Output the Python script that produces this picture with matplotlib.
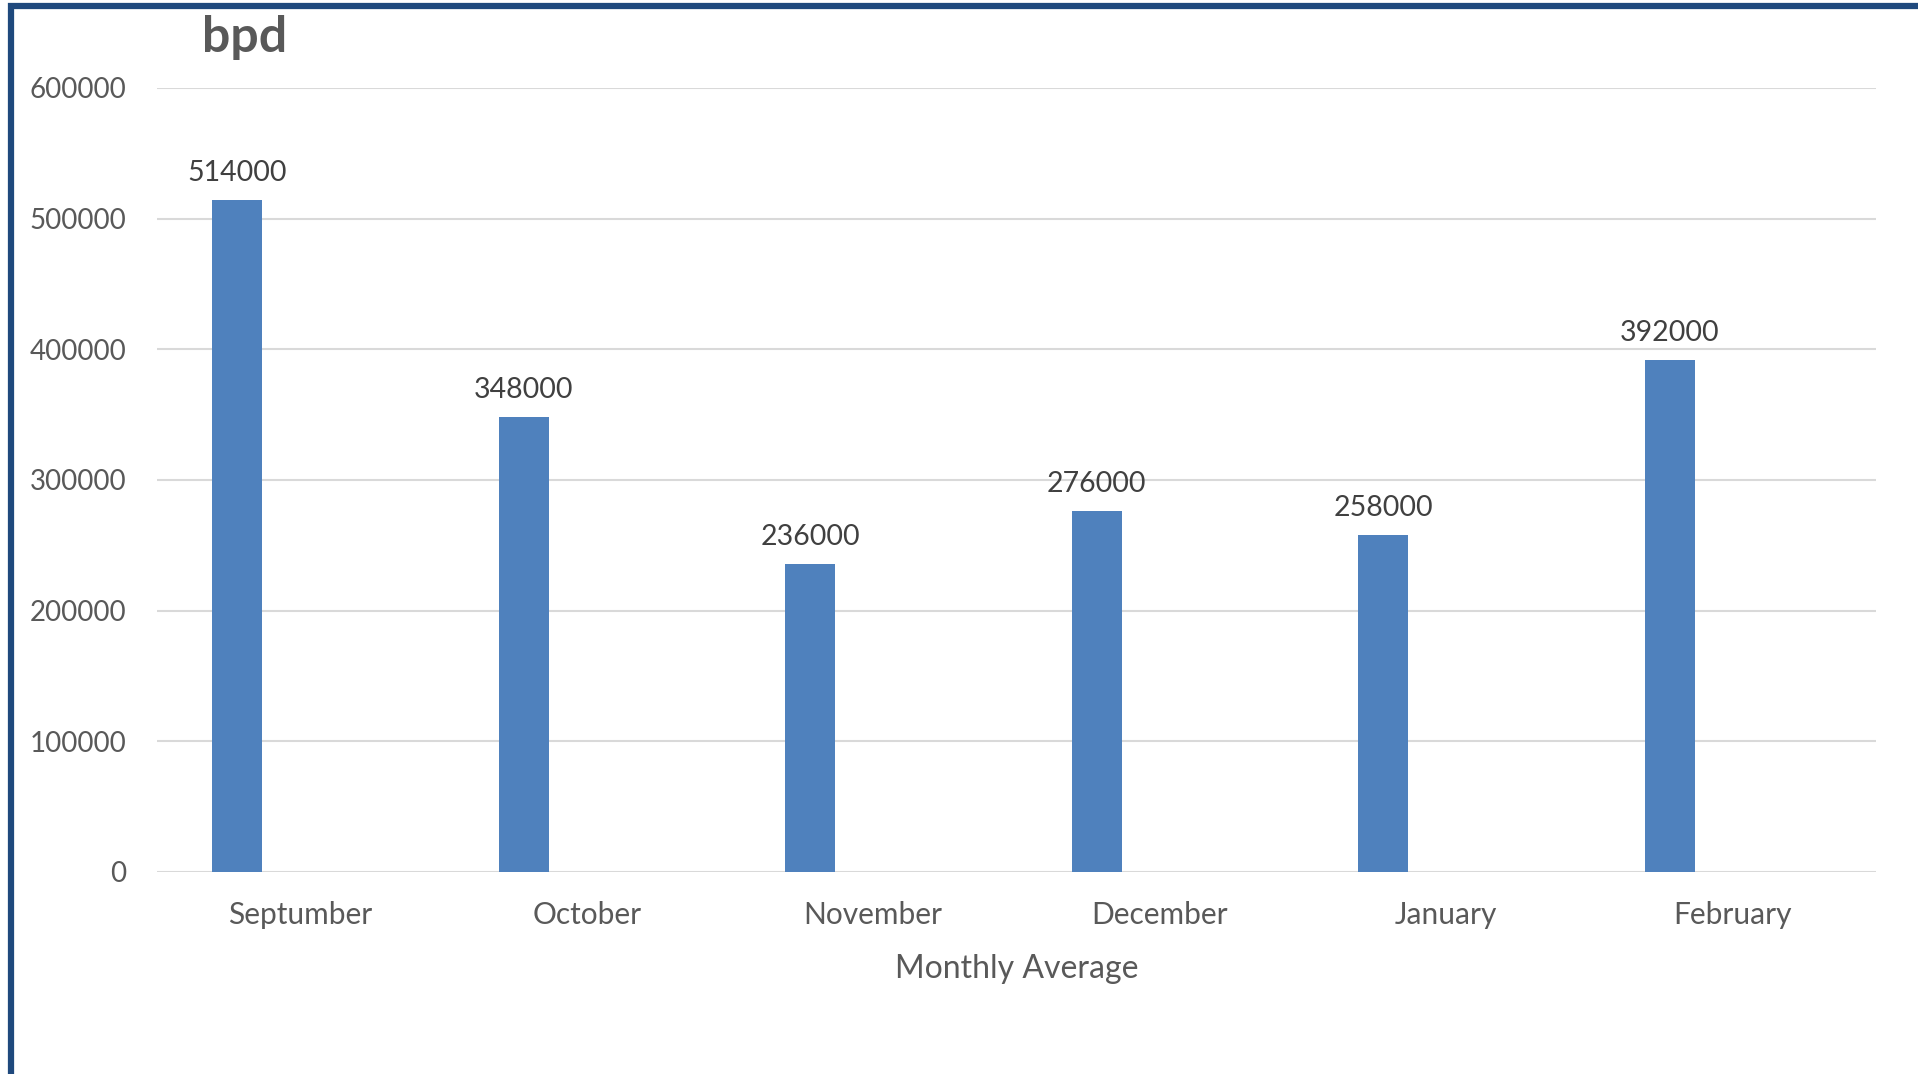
import matplotlib.pyplot as plt
from matplotlib.patches import Rectangle
import numpy as np

months = ['Septumber', 'October', 'November', 'December', 'January', 'February']
bpd_avg = [514000, 348000, 236000, 276000, 258000, 392000]
y_ticks = [0, 100000, 200000, 300000, 400000, 500000, 600000]

plt.rcParams['font.family'] = ['Lato', 'DejaVu Sans']

W, H = 1918, 1074
fig = plt.figure(figsize=(W / 100, H / 100), dpi=100)
ax = fig.add_axes([157 / W, 1 - 872 / H, (1876 - 157) / W, (872 - 88) / H])

x = np.arange(len(months))
# bars sit in the left slot of each category group
offset = -0.22
bars = ax.bar(x + offset, bpd_avg, width=0.175, color='#4F81BD', zorder=3)

for xi, v in zip(x, bpd_avg):
    ax.annotate(f'{v}', (xi + offset, v), xytext=(0, 10), textcoords='offset points',
                ha='center', va='bottom', fontsize=20.5, color='#404040')

ax.set_xlim(-0.5, len(months) - 0.5)
ax.set_ylim(0, 600000)
ax.set_yticks(y_ticks)
ax.set_yticklabels([str(t) for t in y_ticks])
ax.set_xticks(x)
ax.set_xticklabels(months)
ax.tick_params(axis='both', length=0, labelcolor='#595959')
ax.tick_params(axis='y', pad=22, labelsize=20)
ax.tick_params(axis='x', pad=21, labelsize=21.5)
ax.yaxis.grid(True, color='#D9D9D9', linewidth=1.5, zorder=0)
for s in ax.spines.values():
    s.set_visible(False)

ax.set_xlabel('Monthly Average', fontsize=23, color='#595959', labelpad=18)

fig.text(245 / W, 1 - 37 / H, 'bpd', fontsize=36, fontweight='bold', color='#595959',
         ha='center', va='center')

# dark blue frame running off the right and bottom edges
fig.patches.append(Rectangle((11 / W, -0.1), 1.2, 1 - 5.5 / H + 0.1,
                             transform=fig.transFigure, fill=False,
                             edgecolor='#1F497D', linewidth=4.5, clip_on=False))

fig.savefig('out.png', dpi=100)
